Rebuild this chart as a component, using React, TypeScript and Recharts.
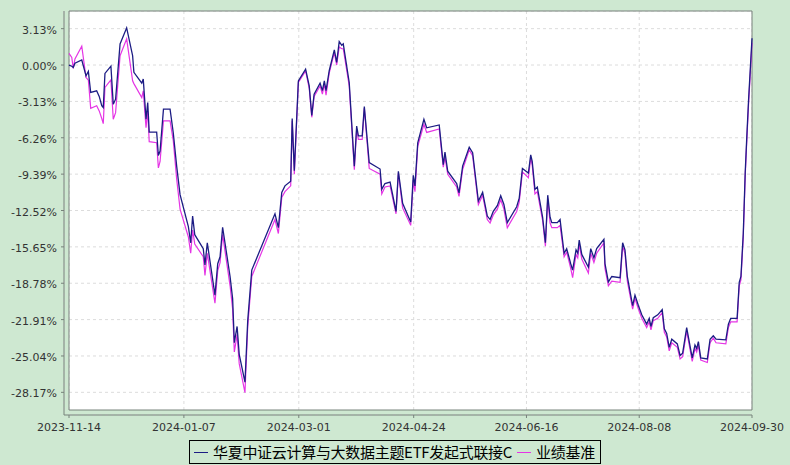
import React from 'react';
import {
  LineChart,
  Line,
  XAxis,
  YAxis,
  CartesianGrid,
  ReferenceArea,
} from 'recharts';

const FUND_NAME = '华夏中证云计算与大数据主题ETF发起式联接C';
const BENCH_NAME = '业绩基准';

// days since 2023-11-14
const days = [
  0, 1.3, 2.0, 2.8, 6.0, 8.0, 9.1, 10.2, 13.0, 14.2,
  15.4, 16.1, 16.9, 19.7, 20.8, 21.9, 24.0, 27.1, 29.9, 30.5,
  34.2, 34.9, 36.2, 37.0, 37.7, 41.2, 42.0, 42.8, 44.4, 47.5,
  49.0, 50.6, 52.2, 56.1, 57.2, 58.1, 59.1, 63.1, 63.9, 65.0,
  68.6, 69.9, 71.0, 72.2, 75.7, 76.9, 77.7, 79.0, 80.0, 82.7,
  84.0, 85.9, 96.8, 98.4, 100.0, 101.5, 104.2, 104.9, 105.9, 107.8,
  111.2, 112.9, 114.1, 115.2, 118.0, 119.1, 120.0, 120.8, 122.3, 124.7,
  125.8, 127.0, 128.2, 128.9, 131.7, 134.1, 135.2, 136.0, 137.8, 138.8,
  141.1, 146.2, 147.0, 148.5, 150.9, 153.7, 154.8, 156.8, 160.6, 161.8,
  162.6, 163.9, 166.8, 168.1, 174.0, 175.9, 176.7, 178.0, 182.2, 183.3,
  185.0, 188.1, 189.7, 192.4, 194.4, 196.6, 197.9, 199.4, 201.3, 202.9,
  204.4, 206.0, 210.4, 211.6, 213.1, 215.9, 217.0, 217.7, 219.0, 220.1,
  222.6, 223.9, 225.0, 226.1, 226.9, 229.5, 230.8, 232.7, 233.9, 235.8,
  236.7, 238.3, 239.1, 239.8, 241.0, 244.1, 245.2, 246.7, 248.0, 251.4,
  251.9, 253.5, 255.1, 259.0, 260.2, 261.3, 262.4, 264.9, 266.0, 267.6,
  269.2, 271.5, 272.7, 273.5, 274.6, 276.7, 278.8, 279.8, 280.9, 282.1,
  283.3, 285.9, 287.2, 288.4, 290.3, 292.9, 294.2, 295.0, 295.8, 296.9,
  300.0, 301.3, 302.8, 304.1, 308.7, 309.9, 311.0, 314.0, 315.0, 315.8,
  316.9, 317.8, 318.5, 319.4, 321,
];

// cumulative return, %
const fundReturn = [
  0.0, -0.1, -0.2, 0.15, 0.43, -0.93, -0.55, -2.36, -2.22, -2.7,
  -3.5, -3.66, -0.72, -0.1, -3.37, -2.94, 1.82, 3.2, 0.8, -0.63,
  -1.56, -1.21, -4.67, -3.23, -5.77, -5.77, -7.79, -7.4, -3.8, -3.8,
  -5.83, -8.7, -11.16, -13.9, -15.3, -13.0, -14.6, -15.8, -17.2, -15.3,
  -19.8, -17.1, -16.5, -13.96, -18.2, -20.1, -23.9, -22.5, -24.9, -27.3,
  -22.0, -17.65, -12.8, -14.0, -10.96, -10.4, -10.0, -4.6, -9.1, -1.36,
  -0.35, -1.79, -4.33, -2.5, -1.56, -2.2, -1.36, -2.2, -0.49, 1.3,
  0.23, 2.02, 1.7, 1.82, -1.5, -8.71, -5.25, -6.1, -6.1, -3.58,
  -8.4, -8.95, -10.7, -10.2, -10.07, -12.6, -9.14, -11.9, -13.5, -9.5,
  -10.4, -6.7, -4.67, -5.4, -5.16, -8.57, -7.5, -9.14, -10.2, -11.0,
  -8.7, -7.07, -7.55, -11.7, -10.96, -13.0, -13.3, -12.6, -12.1, -11.25,
  -12.0, -13.56, -12.2, -11.45, -8.9, -9.3, -7.73, -8.3, -10.7, -10.5,
  -13.1, -15.3, -11.2, -13.1, -13.56, -13.56, -13.3, -16.2, -15.8, -17.1,
  -17.65, -15.9, -16.2, -15.06, -16.3, -17.4, -15.8, -16.6, -15.8, -15.0,
  -17.1, -18.67, -18.2, -18.3, -15.3, -15.9, -18.2, -20.7, -19.8, -20.7,
  -21.5, -22.3, -21.8, -22.5, -21.75, -21.5, -21.05, -22.7, -23.1, -24.3,
  -23.6, -24.0, -25.0, -24.8, -22.6, -25.2, -24.1, -24.4, -23.8, -25.2,
  -25.3, -23.6, -23.3, -23.6, -23.65, -22.3, -21.8, -21.8, -18.7, -18.2,
  -14.5, -9.3, -6.4, -2.94, 2.3,
];

const benchReturn = [
  1.01, 0.66, -0.29, 0.52, 1.62, -1.07, -1.3, -3.72, -3.5, -3.95,
  -4.6, -5.05, -1.93, -1.27, -4.67, -4.1, 0.8, 2.25, -1.36, -1.6,
  -2.8, -2.22, -5.39, -3.95, -6.6, -6.69, -8.85, -8.3, -4.8, -4.8,
  -6.5, -9.8, -12.4, -14.8, -16.2, -14.2, -15.4, -16.5, -18.1, -16.2,
  -20.5, -17.7, -17.0, -14.6, -19.0, -21.0, -24.7, -23.2, -25.7, -28.2,
  -22.5, -18.2, -13.3, -14.5, -11.4, -10.9, -10.4, -4.8, -9.4, -1.5,
  -0.5, -2.0, -4.5, -2.7, -1.8, -2.5, -1.6, -2.6, -0.7, 1.1,
  0.0, 1.55, 1.4, 1.4, -1.8, -9.0, -5.5, -6.4, -6.4, -3.7,
  -8.9, -9.4, -11.1, -10.5, -10.4, -12.8, -9.3, -12.3, -13.8, -9.9,
  -10.9, -7.0, -5.1, -5.8, -5.5, -8.8, -7.9, -9.4, -10.5, -11.3,
  -9.0, -7.3, -7.8, -12.0, -11.2, -13.3, -13.6, -12.9, -12.4, -11.6,
  -12.4, -14.0, -12.6, -11.8, -9.2, -9.7, -8.0, -8.6, -11.1, -10.9,
  -13.4, -15.6, -11.5, -13.6, -14.0, -14.0, -13.8, -16.5, -16.1, -17.5,
  -18.3, -16.3, -16.6, -15.4, -16.7, -17.9, -16.2, -17.0, -16.2, -15.3,
  -17.5, -19.0, -18.6, -18.7, -15.6, -16.2, -18.6, -21.0, -20.1, -21.0,
  -21.8, -22.6, -22.1, -22.8, -22.0, -21.8, -21.3, -23.0, -23.4, -24.6,
  -23.9, -24.3, -25.3, -25.1, -22.9, -25.5, -24.4, -24.7, -24.1, -25.4,
  -25.6, -23.9, -23.5, -23.9, -24.0, -22.6, -22.1, -22.1, -19.0, -18.5,
  -14.8, -9.6, -6.7, -3.3, 1.9,
];

const xTickDays = [0, 54, 108, 162, 215, 268, 321];
const xTickLabels = [
  '2023-11-14',
  '2024-01-07',
  '2024-03-01',
  '2024-04-24',
  '2024-06-16',
  '2024-08-08',
  '2024-09-30',
];
const yTicks = [
  3.13, 0, -3.13, -6.26, -9.39, -12.52, -15.65, -18.78, -21.91, -25.04, -28.17,
];

const Y_MIN = -29.69;
const Y_MAX = 4.65;

const BG = '#cee8d1';
const AXIS = '#76827a';
const FUND_COLOR = '#1c1c84';
const BENCH_COLOR = '#e535e5';

const chartData = days.map((d, i) => ({
  day: d,
  fund: fundReturn[i],
  bench: benchReturn[i],
}));

const YTick = (props: any) => {
  const { x, y, payload } = props;
  return (
    <text
      x={x}
      y={y}
      dy={5}
      textAnchor="end"
      fill="#333"
      fontSize={11}
      fontFamily="DejaVu Sans"
    >
      {`${payload.value.toFixed(2)}%`}
    </text>
  );
};

const XTick = (props: any) => {
  const { x, y, payload } = props;
  const idx = xTickDays.indexOf(payload.value);
  return (
    <text
      x={x}
      y={y}
      dy={11}
      textAnchor="middle"
      fill="#333"
      fontSize={11}
      fontFamily="DejaVu Sans"
    >
      {xTickLabels[idx]}
    </text>
  );
};

const marker = (color: string, ml: number) => ({
  display: 'inline-block',
  flexShrink: 0,
  width: 14,
  height: 1,
  background: color,
  marginLeft: ml,
  marginRight: 5,
});

const App: React.FC = () => {
  return (
    <div style={{ position: 'relative', width: 790, height: 465, background: BG }}>
      <style>{'body{margin:0}'}</style>
      <LineChart
        width={790}
        height={465}
        data={chartData}
        margin={{ top: 11, right: 38, left: 0, bottom: 0 }}
      >
        <CartesianGrid
          x={69}
          y={11}
          width={683}
          height={399}
          fill="#fff"
          stroke="#dcdcdc"
          strokeDasharray="3 3"
        />
        <XAxis
          dataKey="day"
          type="number"
          domain={[0, 321]}
          ticks={xTickDays}
          interval={0}
          padding={{ left: 5, right: 0 }}
          height={50}
          tickSize={3}
          tickMargin={2}
          stroke={AXIS}
          tick={<XTick />}
        />
        <YAxis
          type="number"
          domain={[Y_MIN, Y_MAX]}
          ticks={yTicks}
          interval={0}
          padding={{ top: 0, bottom: 5 }}
          width={64}
          tickSize={3}
          tickMargin={4}
          stroke={AXIS}
          tick={<YTick />}
        />
        <ReferenceArea
          x1={0}
          x2={321}
          y1={Y_MIN}
          y2={Y_MAX}
          fill="none"
          stroke={AXIS}
          ifOverflow="visible"
        />
        <Line
          dataKey="bench"
          name={BENCH_NAME}
          type="linear"
          stroke={BENCH_COLOR}
          strokeWidth={1.2}
          dot={false}
          isAnimationActive={false}
        />
        <Line
          dataKey="fund"
          name={FUND_NAME}
          type="linear"
          stroke={FUND_COLOR}
          strokeWidth={1.3}
          dot={false}
          isAnimationActive={false}
        />
      </LineChart>

      {/* legend */}
      <div
        style={{
          position: 'absolute',
          left: 189,
          top: 440,
          width: 410,
          height: 22,
          border: '1px solid #000',
          display: 'flex',
          alignItems: 'center',
          fontFamily: '"Noto Sans CJK SC", sans-serif',
          fontSize: 15,
          letterSpacing: '-0.3px',
          lineHeight: '22px',
          color: '#000',
          whiteSpace: 'nowrap',
        }}
      >
        <span style={marker(FUND_COLOR, 4)} />
        <span style={{ flexShrink: 0 }}>{FUND_NAME}</span>
        <span style={marker(BENCH_COLOR, 5)} />
        <span style={{ flexShrink: 0 }}>{BENCH_NAME}</span>
      </div>
    </div>
  );
};

export default App;
